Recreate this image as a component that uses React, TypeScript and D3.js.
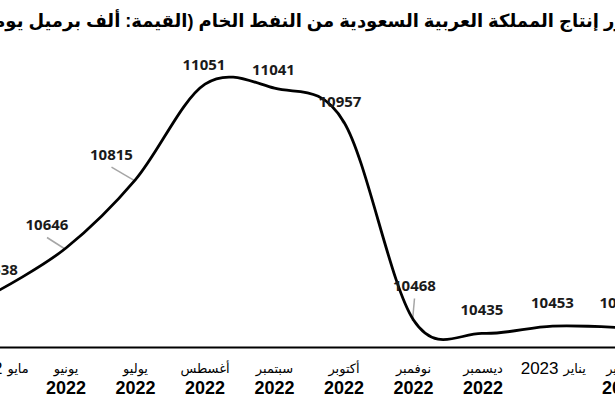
import React from 'react';
import * as d3 from 'd3';

const title = 'تطور إنتاج المملكة العربية السعودية من النفط الخام (القيمة: ألف برميل يومياً)';
const months = ['مايو', 'يونيو', 'يوليو', 'أغسطس', 'سبتمبر', 'أكتوبر', 'نوفمبر', 'ديسمبر', 'يناير', 'فبراير'];
const years = ['2022', '2022', '2022', '2022', '2022', '2022', '2022', '2022', '2023', '2023'];
const inlineYear = [true, false, false, false, false, false, false, false, true, false];
const values = [10538, 10646, 10815, 11051, 11041, 10957, 10468, 10435, 10453, 10449];

// label layout (px offsets from the point)
const labelDx = [0, -19, -24, -1, -1, -4, 1, -1, 0, -1];
const labelDy = [-17, -18, -20, -14, -13, -15, -29, -18, -18, -20];
const hasLeader = [false, true, true, false, false, true, true, false, false, false];

const W = 615;
const H = 410;

export default function App() {
  const idx = values.map((_, i) => i);
  const x = d3.scalePoint<number>().domain(idx).range([-3.5, 622]);
  const y = d3.scaleLinear().domain([10400, 11200]).range([347.5, 23.9]);
  const line = d3
    .line<number>()
    .x((d, i) => x(i) as number)
    .y((d) => y(d))
    .curve(d3.curveCardinal.tension(0));
  const axisY = y(10400);

  return (
    <svg
      width={W}
      height={H}
      style={{ position: 'absolute', left: 0, top: 0, background: '#fff' }}
    >
      <rect x={0} y={0} width={W} height={H} fill="#fff" />
      <text
        x={312}
        y={27}
        textAnchor="middle"
        direction="rtl"
        fontFamily="Arial, 'DejaVu Sans', sans-serif"
        fontWeight="bold"
        fontSize={18}
        fill="#000"
      >
        {title}
      </text>

      {idx.map((i) =>
        hasLeader[i] ? (
          <line
            key={'ld' + i}
            x1={(x(i) as number) + labelDx[i]}
            y1={y(values[i]) + labelDy[i] + 7.5}
            x2={(x(i) as number) - 1}
            y2={y(values[i]) + 1}
            stroke="#a6a6a6"
            strokeWidth={1.5}
          />
        ) : null
      )}

      <path d={line(values) || ''} fill="none" stroke="#000" strokeWidth={2.8} />

      <line x1={0} x2={W} y1={axisY} y2={axisY} stroke="#000" strokeWidth={2.2} />

      {idx.map((i) => (
        <text
          key={'v' + i}
          x={(x(i) as number) + labelDx[i]}
          y={y(values[i]) + labelDy[i]}
          textAnchor="middle"
          fontFamily="'Open Sans', sans-serif"
          fontWeight="bold"
          fontSize={15}
          fill="#1a1a1a"
        >
          {values[i]}
        </text>
      ))}

      {idx.map((i) => {
        const cx = x(i) as number;
        if (inlineYear[i]) {
          return (
            <g key={'c' + i}>
              <text
                x={cx + 6}
                y={374}
                textAnchor="end"
                fontFamily="Arial, 'Liberation Sans', sans-serif"
                fontSize={17}
                fill="#000"
              >
                {years[i]}
              </text>
              <text
                x={cx + 11}
                y={373}
                textAnchor="start"
                fontFamily="Arial, 'DejaVu Sans', sans-serif"
                fontSize={13}
                fill="#000"
              >
                {months[i]}
              </text>
            </g>
          );
        }
        return (
          <g key={'c' + i}>
            <text
              x={cx}
              y={373}
              textAnchor="middle"
              fontFamily="Arial, 'DejaVu Sans', sans-serif"
              fontSize={13}
              fill="#000"
            >
              {months[i]}
            </text>
            <text
              x={cx}
              y={394}
              textAnchor="middle"
              fontFamily="Arial, 'Liberation Sans', sans-serif"
              fontWeight="bold"
              fontSize={18}
              fill="#000"
            >
              {years[i]}
            </text>
          </g>
        );
      })}
    </svg>
  );
}
